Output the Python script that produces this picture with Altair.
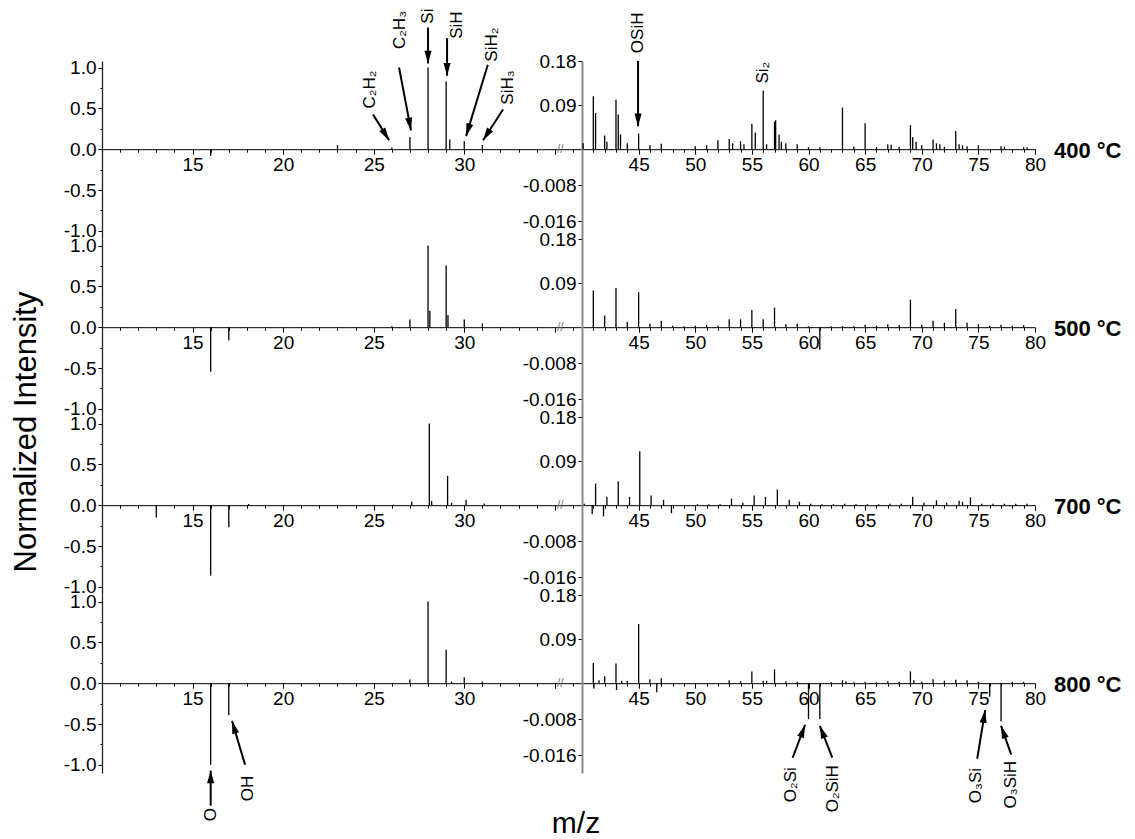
import math
import altair as alt
import pandas as pd

FONT = "Liberation Sans"

temperatures = ["400 °C", "500 °C", "700 °C", "800 °C"]

# ---------------- low-mass segment (m/z 10 - 36.5) ----------------
left_mz_400 = [16, 23, 26, 27, 28, 29, 29.2, 30, 31]
left_int_400 = [-0.08, 0.05, 0.02, 0.15, 1.0, 0.83, 0.12, 0.10, 0.05]
left_mz_500 = [16, 17, 26, 27, 28, 28.1, 29, 29.1, 30, 31]
left_int_500 = [-0.545, -0.16, 0.01, 0.094, 1.0, 0.2, 0.755, 0.15, 0.094, 0.045]
left_mz_700 = [13, 16, 17, 18.1, 26.1, 27.1, 28.07, 28.2, 29.08, 29.3, 30.1, 31.1]
left_int_700 = [-0.15, -0.86, -0.27, 0.015, 0.005, 0.046, 1.0, 0.05, 0.36, 0.03, 0.067, 0.02]
left_mz_800 = [16, 17, 27, 28, 29, 29.3, 30, 31]
left_int_800 = [-1.0, -0.39, 0.045, 1.0, 0.41, 0.02, 0.074, 0.02]

# ---------------- high-mass segment (m/z 40 - 80) ----------------
right_mz_400 = [40.1, 41.0, 41.2, 42.0, 42.2, 43.0, 43.2, 43.4, 44.0, 45.0,
                46.0, 47.0, 50.0, 51.0, 52.0, 53.0, 53.3, 54.0, 54.3, 55.0,
                55.3, 56.0, 56.3, 57.0, 57.1, 57.4, 57.6, 58.0, 59.0, 60.0,
                61.0, 63.0, 64.0, 65.0, 66.0, 67.0, 67.3, 68.0, 69.0, 69.2,
                69.5, 70.0, 71.0, 71.3, 71.6, 72.0, 73.0, 73.3, 73.6, 74.0,
                75.0, 77.0, 77.3, 79.0, 79.3]
right_int_400 = [0.012, 0.108, 0.074, 0.028, 0.015, 0.101, 0.071, 0.030, 0.012, 0.032,
                 0.008, 0.011, 0.006, 0.008, 0.018, 0.021, 0.012, 0.016, 0.010, 0.052,
                 0.034, 0.120, 0.010, 0.056, 0.059, 0.030, 0.015, 0.012, 0.010, 0.004,
                 0.004, 0.085, 0.005, 0.053, 0.004, 0.010, 0.009, 0.005, 0.049, 0.025,
                 0.015, 0.008, 0.020, 0.012, 0.010, 0.005, 0.037, 0.010, 0.008, 0.006,
                 0.008, 0.006, 0.005, 0.004, 0.004]
right_mz_500 = [41, 42, 43, 44, 45, 46, 47, 48, 49, 50,
                51, 52, 53, 54, 55, 56, 57, 58, 59, 60,
                61, 62, 63, 64, 65, 66, 67, 68, 69, 70,
                71, 72, 73, 74, 75, 76, 77, 78, 79]
right_int_500 = [0.075, 0.024, 0.080, 0.011, 0.072, 0.007, 0.013, 0.003, 0.002, 0.003,
                 0.005, 0.003, 0.016, 0.016, 0.035, 0.016, 0.040, 0.006, 0.007, 0.002,
                 -0.005, 0.002, 0.002, 0.002, 0.005, 0.003, 0.006, 0.005, 0.056, 0.005,
                 0.013, 0.009, 0.037, 0.009, 0.006, 0.003, 0.005, 0.003, 0.004]
right_mz_700 = [40.2, 40.9, 41.2, 41.9, 42.2, 43.2, 44.2, 45.1, 46.1, 47.2,
                47.9, 50.2, 51.2, 52.2, 53.2, 54.2, 55.2, 56.2, 57.25, 58.3,
                59.2, 60.2, 61.2, 62.2, 63.2, 64.2, 65.2, 66.2, 67.2, 68.2,
                69.2, 70.2, 71.3, 72.2, 73.3, 73.6, 74.3, 75.3, 76.3, 77.3,
                78.3, 79.3]
right_int_700 = [0.003, -0.002, 0.044, -0.0025, 0.017, 0.049, 0.017, 0.110, 0.020, 0.011,
                 -0.0018, 0.002, 0.002, 0.002, 0.0135, 0.005, 0.020, 0.017, 0.032, 0.011,
                 0.007, 0.003, 0.002, 0.002, 0.003, 0.002, 0.002, 0.002, 0.003, 0.003,
                 0.017, 0.005, 0.010, 0.005, 0.009, 0.007, 0.016, 0.003, 0.003, 0.003,
                 0.003, 0.003]
right_mz_800 = [41.0, 41.05, 41.5, 42.0, 43.0, 43.05, 43.5, 44.0, 45.0, 46.0,
                46.6, 47.0, 53.0, 54.0, 55.0, 56.0, 56.3, 57.0, 58.0, 59.0,
                60.0, 61.0, 62.0, 63.0, 63.3, 64.0, 65.0, 66.0, 67.0, 68.0,
                69.0, 69.3, 70.0, 71.0, 72.0, 73.0, 74.0, 75.0, 76.0, 77.0,
                78.0, 79.0]
right_int_800 = [0.041, -0.0012, 0.006, 0.014, 0.040, -0.0015, 0.005, 0.005, 0.121, 0.008,
                 -0.002, 0.010, 0.006, 0.004, 0.024, 0.005, 0.005, 0.028, 0.004, 0.003,
                 -0.008, -0.008, 0.002, 0.006, 0.004, 0.002, 0.003, 0.002, 0.004, 0.003,
                 0.024, 0.006, 0.003, 0.008, 0.005, 0.007, 0.006, 0.003, -0.003, -0.0085,
                 0.003, 0.003]

left_mz = [left_mz_400, left_mz_500, left_mz_700, left_mz_800]
left_int = [left_int_400, left_int_500, left_int_700, left_int_800]
right_mz = [right_mz_400, right_mz_500, right_mz_700, right_mz_800]
right_int = [right_int_400, right_int_500, right_int_700, right_int_800]

# ---------------- annotations (row, side, label, m/z, intensity) ----------------
ann_row = [0, 0, 0, 0, 0, 0, 0, 0, 3, 3, 3, 3, 3, 3]
ann_side = ["L", "L", "L", "L", "L", "L", "R", "R", "L", "L", "R", "R", "R", "R"]
ann_label = ["C₂H₂", "C₂H₃", "Si", "SiH", "SiH₂", "SiH₃", "OSiH", "Si₂",
             "O", "OH", "O₂Si", "O₂SiH", "O₃Si", "O₃SiH"]
ann_mz = [24.8, 26.45, 28.0, 29.6, 31.55, 32.4, 44.95, 56.0,
          16.0, 18.06, 58.45, 62.2, 74.8, 77.9]
ann_int = [0.73, 1.46, 1.63, 1.52, 1.28, 0.755, 0.2375, 0.156,
           -1.61, -1.29, -0.0226, -0.0235, -0.0228, -0.0226]

# arrows: tail (mz1, int1) -> tip (mz2, int2)
arr_row = [0, 0, 0, 0, 0, 0, 0, 3, 3, 3, 3, 3, 3]
arr_side = ["L", "L", "L", "L", "L", "L", "R", "L", "L", "R", "R", "R", "R"]
arr_mz1 = [24.96, 26.4, 28.0, 29.05, 31.3, 32.14, 44.95, 16.0, 17.9, 58.6, 62.1, 74.9, 77.9]
arr_int1 = [0.426, 1.0, 1.49, 1.36, 1.035, 0.487, 0.18, -1.50, -1.0,
            -0.0166, -0.0166, -0.0168, -0.0159]
arr_mz2 = [25.85, 27.06, 28.0, 29.05, 30.1, 31.04, 44.95, 16.0, 17.18, 59.7, 61.0, 75.6, 77.0]
arr_int2 = [0.11, 0.23, 1.05, 0.90, 0.16, 0.11, 0.0467, -1.07, -0.463,
            -0.0093, -0.0095, -0.006, -0.0095]

# ---------------- geometry ----------------
H = 178
YDOM = [-1.1, 1.08]
LW, RW = 480, 453
LDOM, RDOM = [10, 36.5], [40, 80]
KY = H / (YDOM[1] - YDOM[0])
XOFF = -(-YDOM[0] * KY)

POS_F, NEG_F = 6.0, 55.0
RIGHT_EXPR = f"datum.{{f}} >= 0 ? datum.{{f}} * {POS_F} : datum.{{f}} * {NEG_F}"


def tr(side, v):
    if side == "L":
        return v
    return v * POS_F if v >= 0 else v * NEG_F


def calc(side, f):
    if side == "L":
        return f"datum.{f}"
    return RIGHT_EXPR.format(f=f)


def lab_expr(mapping):
    parts = [f"abs(datum.value - ({k})) < 1e-6 ? '{v}'" for k, v in mapping.items()]
    return " : ".join(parts) + " : ''"


ARROW = "M0,0L0.75,2.7L-0.75,2.7Z"


def make_panel(row, side):
    if side == "L":
        dom, width = LDOM, LW
        mz, iv = left_mz[row], left_int[row]
        xvals = list(range(10, 37))
        xlab = {15: "15", 20: "20", 25: "25", 30: "30"}
        yvals = [-1, -0.75, -0.5, -0.25, 0, 0.25, 0.5, 0.75, 1]
        ylab = {1: "1.0", 0.5: "0.5", 0: "0.0", -0.5: "-0.5", -1: "-1.0"}
        ymajor = "abs(datum.value*2 - round(datum.value*2)) < 1e-6"
        ydcolor, ydwidth = "#222222", 1.3
    else:
        dom, width = RDOM, RW
        mz, iv = right_mz[row], right_int[row]
        xvals = list(range(40, 81))
        xlab = {k: str(k) for k in range(45, 81, 5)}
        yvals = [1.08, 0.54, -0.44, -0.88]
        ylab = {1.08: "0.18", 0.54: "0.09", -0.44: "-0.008", -0.88: "-0.016"}
        ymajor = "true"
        ydcolor, ydwidth = "#8a8a8a", 2
    kx = width / (dom[1] - dom[0])

    xaxis = alt.Axis(
        orient="bottom", offset=XOFF, values=xvals, labelExpr=lab_expr(xlab),
        tickSize={"condition": {"test": "datum.value % 5 === 0", "value": 5}, "value": 3},
        tickColor="black", domainColor="black", domainWidth=1, tickWidth=1,
        labelFont=FONT, labelFontSize=19, labelColor="black", labelPadding=1,
        labelFlush=False, labelOverlap=False, grid=False, title=None,
    )
    yaxis = alt.Axis(
        orient="left", values=yvals, labelExpr=lab_expr(ylab),
        tickSize={"condition": {"test": ymajor, "value": 4}, "value": 2},
        tickColor="black", domainColor=ydcolor, domainWidth=ydwidth, tickWidth=1,
        labelFont=FONT, labelFontSize=19, labelColor="black", labelPadding=2,
        labelFlush=False, labelOverlap=False, grid=False, title=None,
    )
    sx = alt.Scale(domain=dom, nice=False, zero=False)
    sy = alt.Scale(domain=YDOM, nice=False, zero=False)

    def X(f):
        return alt.X(f, type="quantitative", scale=sx, axis=xaxis)

    def Y(f):
        return alt.Y(f, type="quantitative", scale=sy, axis=yaxis)

    peaks_df = pd.DataFrame({"mz": mz, "v": iv})
    peaks = alt.Chart(peaks_df).transform_calculate(
        t=calc(side, "v")
    ).mark_rule(color="black", strokeWidth=1.3).encode(
        x=X("mz"), y=Y("t"), y2=alt.datum(0)
    )
    layers = [peaks]

    idx = [i for i in range(len(ann_row)) if ann_row[i] == row and ann_side[i] == side]
    if idx:
        tdf = pd.DataFrame({
            "label": [ann_label[i] for i in idx],
            "mz": [ann_mz[i] for i in idx],
            "v": [ann_int[i] for i in idx],
        })
        layers.append(
            alt.Chart(tdf).transform_calculate(t=calc(side, "v")).mark_text(
                angle=270, align="center", baseline="middle", font=FONT,
                fontSize=17, color="black"
            ).encode(x=X("mz"), y=Y("t"), text="label:N")
        )
    aidx = [i for i in range(len(arr_row)) if arr_row[i] == row and arr_side[i] == side]
    if aidx:
        angs = []
        for i in aidx:
            dx = (arr_mz2[i] - arr_mz1[i]) * kx
            dy = -(tr(side, arr_int2[i]) - tr(side, arr_int1[i])) * KY
            a = math.degrees(math.atan2(dx, -dy)) % 360
            angs.append(a)
        adf = pd.DataFrame({
            "mz1": [arr_mz1[i] for i in aidx],
            "v1": [arr_int1[i] for i in aidx],
            "mz2": [arr_mz2[i] for i in aidx],
            "v2": [arr_int2[i] for i in aidx],
            "ang": angs,
        })
        base = alt.Chart(adf).transform_calculate(t1=calc(side, "v1"), t2=calc(side, "v2"))
        layers.append(
            base.mark_rule(color="black", strokeWidth=2).encode(
                x=X("mz1"), y=Y("t1"), x2="mz2:Q", y2="t2:Q"
            )
        )
        layers.append(
            base.mark_point(shape=ARROW, size=90, filled=True, color="black",
                            opacity=1, strokeWidth=0).encode(
                x=X("mz2"), y=Y("t2"), angle=alt.Angle("ang:Q", scale=None)
            )
        )

    if side == "L":
        brk = pd.DataFrame({"mz": [35.3], "v": [0.0], "s": ["//"]})
        layers.append(
            alt.Chart(brk).mark_text(fontSize=12, color="#777777", baseline="middle",
                                     align="center", font=FONT).encode(
                x=X("mz"), y=Y("v"), text="s:N")
        )
        if row == 1:
            yt = pd.DataFrame({"s": ["Normalized Intensity"]})
            layers.append(
                alt.Chart(yt).mark_text(angle=270, fontSize=31, font=FONT, color="black",
                                        align="center", baseline="middle").encode(
                    x=alt.value(-75), y=alt.value(193), text="s:N")
            )
    else:
        tl = pd.DataFrame({"mz": [80.0], "v": [0.0], "s": [temperatures[row]]})
        layers.append(
            alt.Chart(tl).mark_text(align="left", baseline="middle", dx=19, dy=2,
                                    fontSize=22, fontWeight="bold", font=FONT,
                                    color="black").encode(
                x=X("mz"), y=Y("v"), text="s:N")
        )
        if row == 3:
            xt = pd.DataFrame({"s": ["m/z"]})
            layers.append(
                alt.Chart(xt).mark_text(fontSize=30, font=FONT, color="black",
                                        align="center", baseline="middle").encode(
                    x=alt.value(-6), y=alt.value(229), text="s:N")
            )

    return alt.layer(*layers).properties(width=width, height=H)


panels = []
for r in range(4):
    panels.append(make_panel(r, "L"))
    panels.append(make_panel(r, "R"))

chart = alt.concat(*panels, columns=2, spacing=0, bounds="flush").properties(
    padding={"left": 3, "top": 0, "right": 5, "bottom": 0},
    background="white",
).configure_view(stroke=None)

chart.save("out.html", embed_options={"renderer": "svg", "actions": False})
